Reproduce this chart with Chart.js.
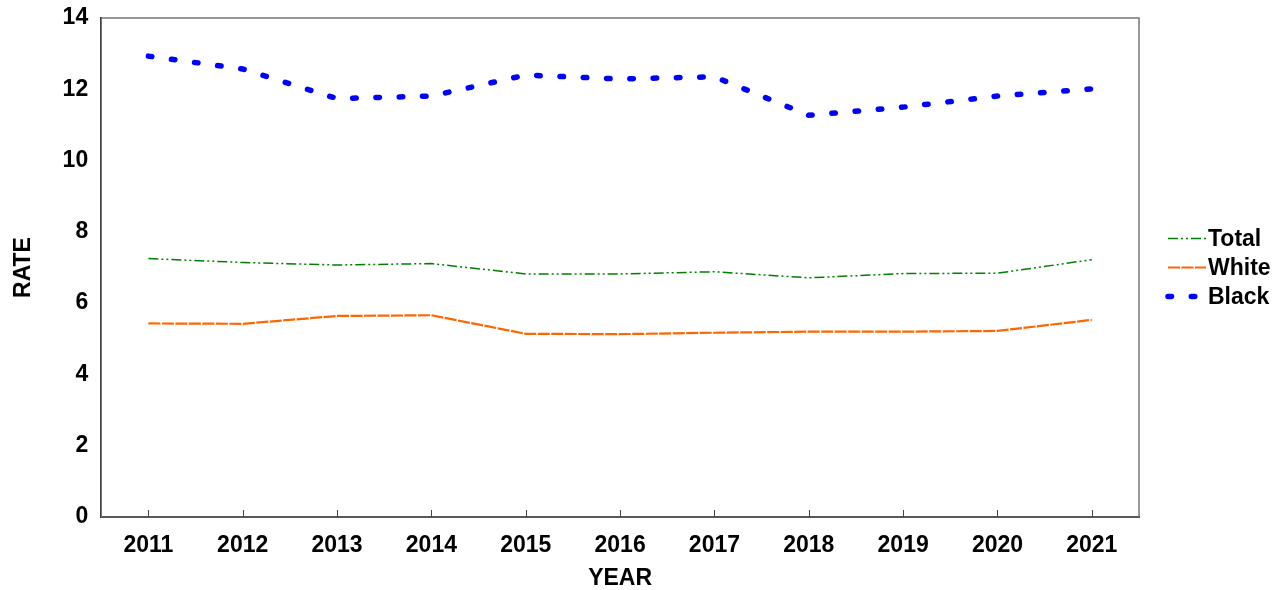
<!DOCTYPE html>
<html>
<head>
<meta charset="utf-8">
<script src="https://cdn.jsdelivr.net/npm/chart.js@4"></script>
<style>
  html, body { margin: 0; padding: 0; background: #fff; }
  #wrap { width: 1284px; height: 590px; }
</style>
</head>
<body>
<div id="wrap"><canvas id="rateChart"></canvas></div>
<script>
const years = ["2011", "2012", "2013", "2014", "2015", "2016", "2017", "2018", "2019", "2020", "2021"];
const totalRate = [7.25, 7.14, 7.07, 7.11, 6.82, 6.82, 6.88, 6.71, 6.83, 6.84, 7.22];
const whiteRate = [5.43, 5.42, 5.64, 5.66, 5.14, 5.13, 5.17, 5.2, 5.2, 5.22, 5.53];
const blackRate = [12.93, 12.57, 11.74, 11.81, 12.4, 12.29, 12.35, 11.27, 11.5, 11.81, 12.01];

Chart.defaults.font.family = "'Liberation Sans', Arial, sans-serif";
Chart.defaults.font.size = 23;
Chart.defaults.font.weight = "bold";
Chart.defaults.color = "#000";

// frame, inward x ticks and the legend on the right
const extras = {
  id: "extras",
  beforeDatasetsDraw(chart) {
    const { ctx, chartArea: a } = chart;
    ctx.save();
    ctx.strokeStyle = "#777";
    ctx.lineWidth = 1.5;
    ctx.strokeRect(a.left, a.top, a.right - a.left, a.bottom - a.top);
    ctx.restore();
  },
  afterDraw(chart) {
    const { ctx, chartArea: a } = chart;
    const x = chart.scales.x;
    ctx.save();
    ctx.strokeStyle = "#444";
    ctx.lineWidth = 1;
    x.ticks.forEach((t, i) => {
      const px = Math.round(x.getPixelForTick(i)) + 0.5;
      ctx.beginPath();
      ctx.moveTo(px, a.bottom);
      ctx.lineTo(px, a.bottom - 7);
      ctx.stroke();
    });
    const mid = (a.top + a.bottom) / 2;
    chart.data.datasets.forEach((ds, i) => {
      const y = mid + (i - 1) * 29;
      const x0 = a.right + 29;
      ctx.strokeStyle = ds.borderColor;
      ctx.lineWidth = ds.borderWidth;
      ctx.lineCap = ds.borderCapStyle || "butt";
      ctx.setLineDash(ds.borderDash || []);
      ctx.beginPath();
      ctx.moveTo(x0, y);
      ctx.lineTo(x0 + 38, y);
      ctx.stroke();
      ctx.setLineDash([]);
      ctx.fillStyle = "#000";
      ctx.font = "bold 23px 'Liberation Sans', Arial, sans-serif";
      ctx.textBaseline = "middle";
      ctx.fillText(ds.label, x0 + 40, y + 1);
    });
    ctx.restore();
  },
};

new Chart(document.getElementById("rateChart"), {
  type: "line",
  data: {
    labels: years,
    datasets: [
      {
        label: "Total",
        data: totalRate,
        borderColor: "#008000",
        borderWidth: 1.5,
        borderDash: [10, 3, 2, 3, 2, 3],
      },
      {
        label: "White",
        data: whiteRate,
        borderColor: "#ff6600",
        borderWidth: 2.2,
        borderDash: [12, 1.5],
      },
      {
        label: "Black",
        data: blackRate,
        borderColor: "#0000ff",
        borderWidth: 5.5,
        borderDash: [3.5, 19.8],
        borderCapStyle: "round",
      },
    ],
  },
  options: {
    responsive: true,
    maintainAspectRatio: false,
    animation: false,
    layout: { padding: { left: 10, right: 145, top: 18, bottom: 0 } },
    elements: { point: { radius: 0 }, line: { tension: 0 } },
    plugins: { legend: { display: false }, tooltip: { enabled: false } },
    scales: {
      x: {
        offset: true,
        grid: { display: false, drawTicks: false },
        border: { color: "#000", width: 2 },
        ticks: { padding: 17, font: { lineHeight: 1 } },
        title: {
          display: true,
          text: "YEAR",
          font: { lineHeight: 1 },
          padding: { top: 0, bottom: 0 },
        },
        afterFit: (s) => { s.height = 73; },
      },
      y: {
        min: 0,
        max: 14,
        grid: { display: false, drawTicks: false },
        border: { color: "#000", width: 2 },
        ticks: { stepSize: 2, padding: 13, font: { lineHeight: 1 } },
        title: { display: true, text: "RATE", padding: { top: 0, bottom: 12 } },
        afterFit: (s) => { s.paddingTop = 0; },
      },
    },
  },
  plugins: [extras],
});
</script>
</body>
</html>
